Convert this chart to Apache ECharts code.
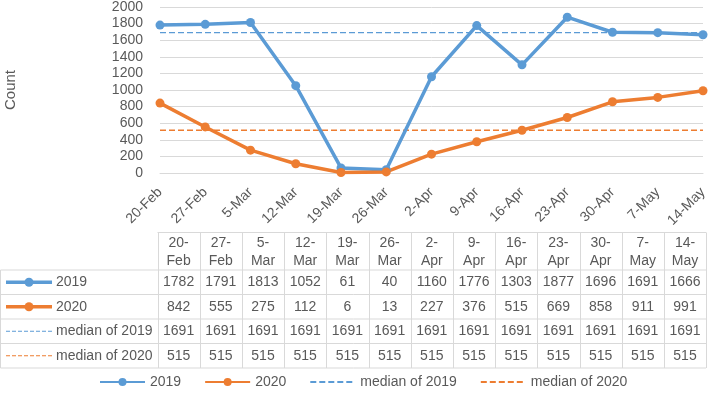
<!DOCTYPE html>
<html>
<head>
<meta charset="utf-8">
<script src="https://cdn.jsdelivr.net/npm/echarts@6/dist/echarts.min.js"></script>
<style>
	html, body { margin: 0; padding: 0; background: #fff; }
	#chart { width: 709px; height: 393px; }
</style>
</head>
<body>
<div id="chart"></div>
<script>
// chart data
var categories = ["20-Feb", "27-Feb", "5-Mar", "12-Mar", "19-Mar", "26-Mar", "2-Apr", "9-Apr", "16-Apr", "23-Apr", "30-Apr", "7-May", "14-May"];
var count2019 = [1782, 1791, 1813, 1052, 61, 40, 1160, 1776, 1303, 1877, 1696, 1691, 1666];
var count2020 = [842, 555, 275, 112, 6, 13, 227, 376, 515, 669, 858, 911, 991];
var median2019 = [1691, 1691, 1691, 1691, 1691, 1691, 1691, 1691, 1691, 1691, 1691, 1691, 1691];
var median2020 = [515, 515, 515, 515, 515, 515, 515, 515, 515, 515, 515, 515, 515];
var yTicks = [0, 200, 400, 600, 800, 1000, 1200, 1400, 1600, 1800, 2000];

var BLUE = "#5b9bd5";
var ORANGE = "#ed7d31";
var TEXT = "#595959";
var BORDER = "#d9d9d9";
var FONT = "'Liberation Sans', Arial, sans-serif";
var FS = 14;

var chart = echarts.init(document.getElementById("chart"));

/**
 * 数据表：表头、图例列、数值单元格。
 */
function buildTable()
{
	var els = [];
	var left = 157.5, colW = 42.2, right = left + colW * categories.length;
	var top = 232.5;
	var rowYs = [270, 294.5, 319, 343.5, 368];
	var rows = [
		{ name: "2019", values: count2019, color: BLUE, dashed: false },
		{ name: "2020", values: count2020, color: ORANGE, dashed: false },
		{ name: "median of 2019", values: median2019, color: BLUE, dashed: true },
		{ name: "median of 2020", values: median2020, color: ORANGE, dashed: true }
	];
	var lineStyle = { stroke: BORDER, lineWidth: 1 };

	// horizontal lines
	els.push({ type: "line", shape: { x1: left, y1: top, x2: right, y2: top }, style: lineStyle, silent: true });
	for(var i=0; i<rowYs.length; i++)
		els.push({ type: "line", shape: { x1: 0.5, y1: rowYs[i], x2: right, y2: rowYs[i] }, style: lineStyle, silent: true });

	// vertical lines
	els.push({ type: "line", shape: { x1: 0.5, y1: rowYs[0], x2: 0.5, y2: rowYs[rowYs.length-1] }, style: lineStyle, silent: true });
	for(var k=0; k<=categories.length; k++)
	{
		var x = Math.round(left + colW * k) + 0.5;
		els.push({ type: "line", shape: { x1: x, y1: top, x2: x, y2: rowYs[rowYs.length-1] }, style: lineStyle, silent: true });
	}

	// header
	for(var j=0; j<categories.length; j++)
	{
		var cx = left + colW * (j + 0.5);
		var parts = categories[j].split("-");
		els.push({ type: "text", x: cx, y: 243, silent: true,
			style: { text: parts[0] + "-", fill: TEXT, font: FS + "px " + FONT, align: "center", verticalAlign: "middle" } });
		els.push({ type: "text", x: cx, y: 261, silent: true,
			style: { text: parts[1], fill: TEXT, font: FS + "px " + FONT, align: "center", verticalAlign: "middle" } });
	}

	// rows
	for(var r=0; r<rows.length; r++)
	{
		var row = rows[r];
		var cy = (rowYs[r] + rowYs[r+1]) / 2;

		els.push({ type: "line", silent: true, shape: { x1: 6, y1: cy, x2: 52, y2: cy },
			style: { stroke: row.color, lineWidth: row.dashed ? 1.2 : 3.5, lineDash: row.dashed ? [4, 2] : null } });
		if(!row.dashed)
			els.push({ type: "circle", silent: true, shape: { cx: 29, cy: cy, r: 4.5 }, style: { fill: row.color } });

		els.push({ type: "text", x: 56, y: cy, silent: true,
			style: { text: row.name, fill: TEXT, font: FS + "px " + FONT, align: "left", verticalAlign: "middle" } });

		for(var c=0; c<row.values.length; c++)
		{
			els.push({ type: "text", x: left + colW * (c + 0.5), y: cy, silent: true,
				style: { text: String(row.values[c]), fill: TEXT, font: FS + "px " + FONT, align: "center", verticalAlign: "middle" } });
		}
	}

	return els;
}

var option = {
	animation: false,
	backgroundColor: "#fff",
	textStyle: { fontFamily: FONT },
	grid: { left: 160, right: 6, top: 7, bottom: 220, outerBoundsMode: "none" },
	legend: {
		left: 94,
		top: 370,
		itemWidth: 45,
		itemHeight: 10,
		itemGap: 23,
		textStyle: { color: TEXT, fontSize: FS, fontFamily: FONT },
		data: [
			"2019",
			"2020",
			{ name: "median of 2019", itemStyle: { opacity: 0 } },
			{ name: "median of 2020", itemStyle: { opacity: 0 } }
		]
	},
	xAxis: {
		type: "category",
		data: categories,
		boundaryGap: false,
		axisLine: { lineStyle: { color: BORDER } },
		axisTick: { show: false },
		axisLabel: { rotate: 45, margin: 17, color: TEXT, fontSize: FS, fontFamily: FONT, interval: 0 }
	},
	yAxis: {
		type: "value",
		min: yTicks[0],
		max: yTicks[yTicks.length-1],
		interval: yTicks[1] - yTicks[0],
		name: "Count",
		nameLocation: "middle",
		nameGap: 142,
		nameRotate: 90,
		nameTextStyle: { color: TEXT, fontSize: 15, fontFamily: FONT },
		axisLine: { show: false },
		axisTick: { show: false },
		axisLabel: { margin: 17, color: TEXT, fontSize: FS, fontFamily: FONT, formatter: function(v){ return String(v); } },
		splitLine: { lineStyle: { color: BORDER } }
	},
	series: [
		{
			name: "2019", type: "line", data: count2019,
			symbol: "circle", symbolSize: 9,
			itemStyle: { color: BLUE },
			lineStyle: { color: BLUE, width: 3.5 },
			z: 4
		},
		{
			name: "2020", type: "line", data: count2020,
			symbol: "circle", symbolSize: 9,
			itemStyle: { color: ORANGE },
			lineStyle: { color: ORANGE, width: 3.5 },
			z: 4
		},
		{
			name: "median of 2019", type: "line", data: median2019,
			symbol: "none",
			itemStyle: { color: BLUE },
			lineStyle: { color: BLUE, width: 1.4, type: [6, 3] },
			z: 3
		},
		{
			name: "median of 2020", type: "line", data: median2020,
			symbol: "none",
			itemStyle: { color: ORANGE },
			lineStyle: { color: ORANGE, width: 1.4, type: [6, 3] },
			z: 3
		}
	],
	graphic: buildTable()
};

chart.setOption(option);
</script>
</body>
</html>
